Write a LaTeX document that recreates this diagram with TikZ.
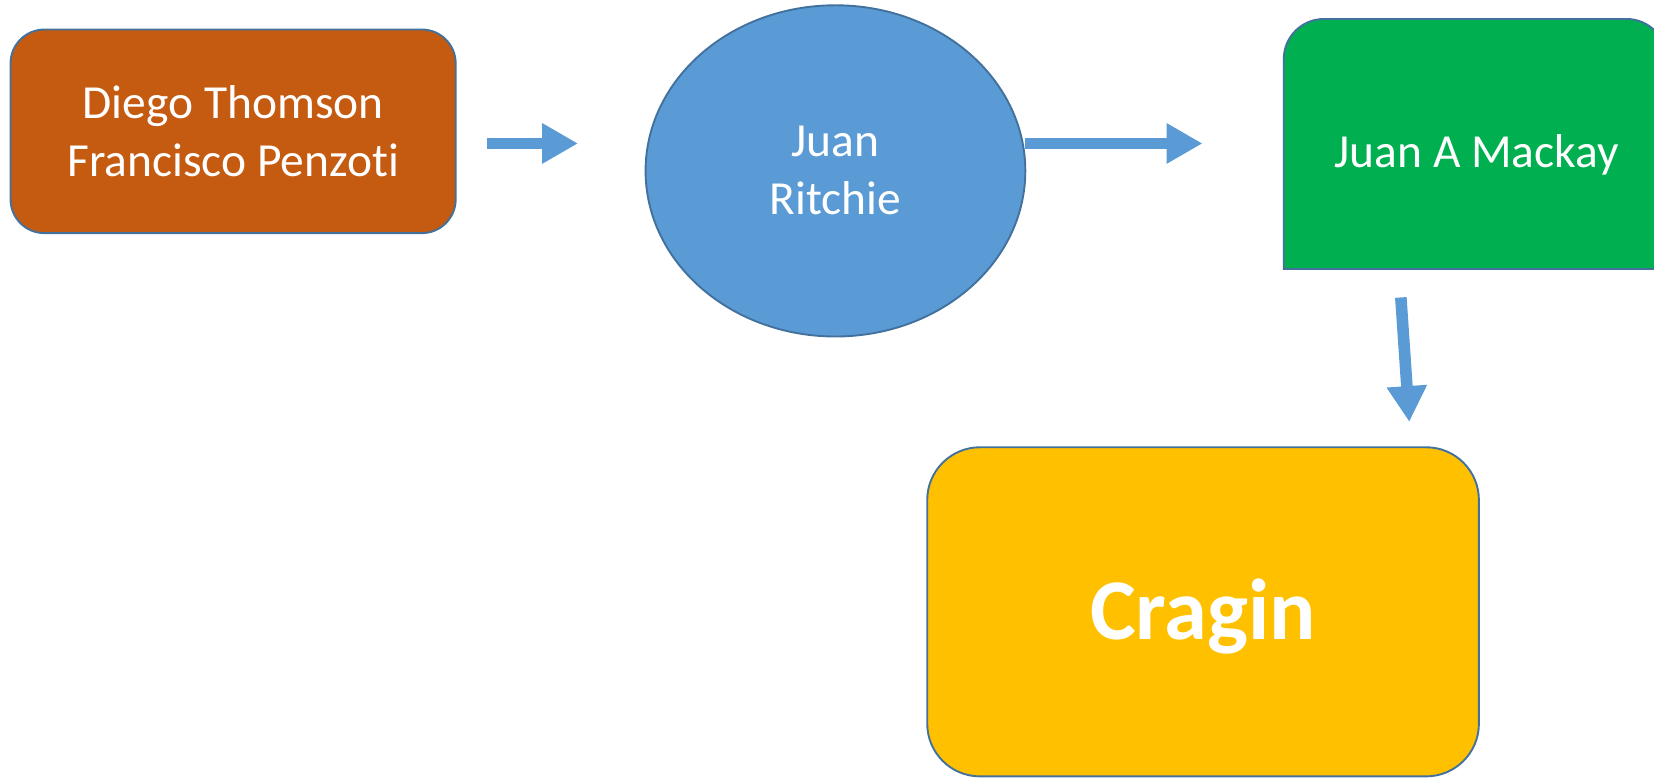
\documentclass[tikz,border=0pt]{standalone}
\usepackage{fontspec}
\setmainfont{Carlito}[Ligatures=NoCommon]
\usetikzlibrary{arrows.meta,shapes.geometric}
\definecolor{orangebox}{HTML}{C55A11}
\definecolor{bluebox}{HTML}{5B9BD5}
\definecolor{greenbox}{HTML}{00B050}
\definecolor{yellowbox}{HTML}{FFC000}
\definecolor{edgeblue}{HTML}{41719C}
\definecolor{arrowblue}{HTML}{5B9BD5}
\begin{document}
\begin{tikzpicture}[x=1pt,y=-1pt,
  box/.style={draw=edgeblue, line width=1.8pt, text=white, align=center,
    font=\fontsize{45}{55}\selectfont, inner sep=0pt},
  blockarrow/.style={draw=arrowblue, line width=11pt,
    -{Triangle[length=34pt,width=36pt]}}]
\useasboundingbox (0,0) rectangle (1568,737);
% orange box
\node[box, fill=orangebox, rounded corners=32pt, minimum width=422pt,
  minimum height=193pt] (thomson) at (221,124.5) {Diego Thomson\\Francisco Penzoti};
% ellipse
\node[box, ellipse, fill=bluebox, minimum width=360pt, minimum height=314pt]
  (ritchie) at (792,162) {Juan\\Ritchie};
% green shape (top corners rounded, bottom square)
\draw[draw=edgeblue, line width=1.8pt, fill=greenbox]
  (1217,255) {[rounded corners=38pt] -- (1217,18) -- (1580,18)} -- (1580,255) -- cycle;
\node[text=white, font=\fontsize{45}{55}\selectfont, inner sep=0pt]
  (mackay) at (1400,147) {Juan A Mackay};
% yellow box
\node[box, fill=yellowbox, rounded corners=50pt, minimum width=523pt,
  minimum height=312pt, font=\fontsize{82}{98}\selectfont\bfseries,
  text height=63pt, text depth=10pt] (cragin) at (1140.5,580) {Cragin};
% connectors
\coordinate (a1s) at (462,136);
\coordinate (a1e) at (548,136);
\coordinate (a2s) at (972,136);
\coordinate (a2e) at (1140,136);
\coordinate (a3s) at (1328,282);
\coordinate (a3e) at (1336,400);
\draw[blockarrow] (a1s) -- (a1e);
\draw[blockarrow] (a2s) -- (a2e);
\draw[blockarrow] (a3s) -- (a3e);
\end{tikzpicture}
\end{document}
